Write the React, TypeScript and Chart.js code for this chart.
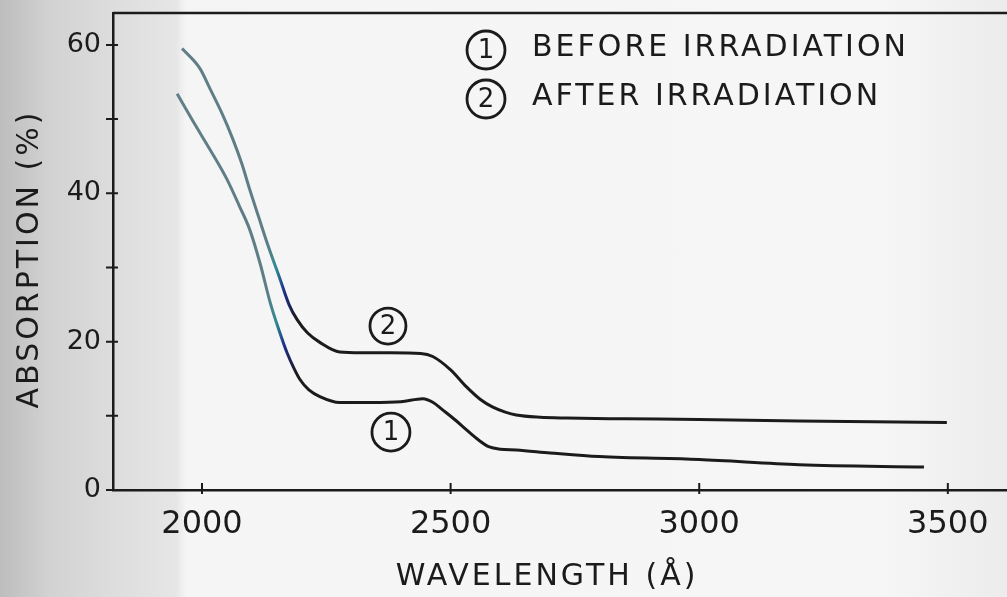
import React, { useEffect, useRef } from 'react';
import { Chart, registerables } from 'chart.js';

Chart.register(...registerables);

// Curve 1: before irradiation
const wavelengthBefore = [1950, 1982, 2016, 2050, 2075, 2096, 2117, 2137, 2155, 2171, 2185, 2197, 2215, 2237, 2277, 2340, 2400, 2444, 2465, 2484, 2510, 2532, 2555, 2578, 2600, 2632, 2700, 2799, 3000, 3201, 3452];
const absorptionBefore = [53.4, 49.7, 45.9, 41.9, 38.3, 35.1, 30.5, 25.3, 21.5, 18.5, 16.4, 14.9, 13.5, 12.6, 11.8, 11.8, 11.9, 12.3, 11.8, 10.8, 9.4, 8.1, 6.8, 5.8, 5.5, 5.4, 5.0, 4.5, 4.1, 3.4, 3.1];

// Curve 2: after irradiation
const wavelengthAfter = [1960, 1996, 2016, 2040, 2062, 2080, 2096, 2113, 2130, 2157, 2175, 2191, 2212, 2237, 2277, 2320, 2380, 2440, 2464, 2500, 2532, 2560, 2584, 2610, 2632, 2680, 2733, 2850, 3000, 3200, 3350, 3498];
const absorptionAfter = [59.5, 56.8, 54.1, 50.8, 47.3, 44.0, 40.5, 37.0, 33.5, 28.4, 25.0, 23.0, 21.2, 19.9, 18.6, 18.5, 18.5, 18.4, 18.0, 16.2, 13.9, 12.2, 11.2, 10.5, 10.1, 9.8, 9.7, 9.6, 9.5, 9.3, 9.2, 9.1];

// Axis ticks
const xTickValues = [2000, 2500, 3000, 3500];
const yTickValues = [0, 10, 20, 30, 40, 50, 60];
const yLabelledTicks = [0, 20, 40, 60];

const legendLabels = ['BEFORE IRRADIATION', 'AFTER IRRADIATION'];
const curveMarks = ['1', '2'];
const xTitle = 'WAVELENGTH (Å)';
const yTitle = 'ABSORPTION (%)';

const INK = '#1b1b1b';
const FONT = '"DejaVu Sans", sans-serif';

function toPoints(xs: number[], ys: number[]) {
  return xs.map((x, i) => ({ x, y: ys[i] }));
}

function curveStroke(context: any) {
  const chart = context.chart;
  const area = chart.chartArea;
  if (!area) return INK;
  const xs = chart.scales.x;
  const w = chart.width;
  const g = chart.ctx.createLinearGradient(0, 0, w, 0);
  const p = (v: number) => Math.min(1, Math.max(0, xs.getPixelForValue(v) / w));
  g.addColorStop(0, '#66808a');
  g.addColorStop(p(2128), '#5f7d86');
  g.addColorStop(p(2150), '#2f8a92');
  g.addColorStop(p(2165), '#1d2f8c');
  g.addColorStop(p(2190), INK);
  g.addColorStop(1, INK);
  return g;
}

function circled(ctx: CanvasRenderingContext2D, cx: number, cy: number, r: number, label: string) {
  ctx.beginPath();
  ctx.lineWidth = 2.8;
  ctx.strokeStyle = INK;
  ctx.arc(cx, cy, r, 0, Math.PI * 2);
  ctx.stroke();
  ctx.fillStyle = INK;
  ctx.font = `26px ${FONT}`;
  ctx.textAlign = 'center';
  ctx.textBaseline = 'middle';
  (ctx as any).letterSpacing = '0px';
  ctx.fillText(label, cx, cy + 1);
}

const decorPlugin = {
  id: 'decor',
  afterDraw(chart: any) {
    const { ctx, chartArea, scales } = chart;
    const xs = scales.x;
    const ys = scales.y;
    ctx.save();

    // top frame line
    ctx.strokeStyle = INK;
    ctx.lineWidth = 2.5;
    ctx.beginPath();
    ctx.moveTo(chartArea.left, chartArea.top);
    ctx.lineTo(chartArea.right, chartArea.top);
    ctx.stroke();

    // tick marks crossing the axes
    ctx.lineWidth = 2;
    ctx.beginPath();
    ys.ticks.forEach((t: any) => {
      const py = ys.getPixelForValue(t.value);
      ctx.moveTo(chartArea.left - 7, py);
      ctx.lineTo(chartArea.left + 5, py);
    });
    xs.ticks.forEach((t: any) => {
      const px = xs.getPixelForValue(t.value);
      ctx.moveTo(px, chartArea.bottom - 7);
      ctx.lineTo(px, chartArea.bottom + 4);
    });
    ctx.stroke();

    // axis titles
    ctx.fillStyle = INK;
    ctx.font = `30px ${FONT}`;
    ctx.textAlign = 'center';
    ctx.textBaseline = 'middle';
    (ctx as any).letterSpacing = '3px';
    ctx.fillText(xTitle, 547, 577);

    ctx.save();
    ctx.translate(30, 259);
    ctx.rotate(-Math.PI / 2);
    (ctx as any).letterSpacing = '3px';
    ctx.fillText(yTitle, 0, 0);
    ctx.restore();

    // legend
    const lx = chartArea.left + 373;
    const ly = chartArea.top + 37;
    legendLabels.forEach((text, i) => {
      const cy = ly + i * 49;
      circled(ctx, lx, cy, 19, curveMarks[i]);
      ctx.fillStyle = INK;
      ctx.font = `30px ${FONT}`;
      ctx.textAlign = 'left';
      ctx.textBaseline = 'middle';
      (ctx as any).letterSpacing = '3px';
      ctx.fillText(text, lx + 46, cy - 2);
    });

    // curve markers
    circled(ctx, xs.getPixelForValue(2380), ys.getPixelForValue(7.8), 19, curveMarks[0]);
    circled(ctx, xs.getPixelForValue(2374), ys.getPixelForValue(22.1), 18, curveMarks[1]);

    ctx.restore();
  },
};

export default function App() {
  const canvasRef = useRef<HTMLCanvasElement | null>(null);

  useEffect(() => {
    document.body.style.margin = '0';
    const canvas = canvasRef.current;
    if (!canvas) return;
    const chart = new Chart(canvas, {
      type: 'line',
      data: {
        datasets: [
          {
            label: legendLabels[0],
            data: toPoints(wavelengthBefore, absorptionBefore),
            borderColor: curveStroke,
            borderWidth: 3,
            pointRadius: 0,
            cubicInterpolationMode: 'monotone',
            fill: false,
          },
          {
            label: legendLabels[1],
            data: toPoints(wavelengthAfter, absorptionAfter),
            borderColor: curveStroke,
            borderWidth: 3,
            pointRadius: 0,
            cubicInterpolationMode: 'monotone',
            fill: false,
          },
        ],
      },
      options: {
        responsive: false,
        animation: false,
        devicePixelRatio: 1,
        layout: { padding: { top: 13, right: 0, bottom: 0, left: 0 } },
        plugins: {
          legend: { display: false },
          tooltip: { enabled: false },
          title: { display: false },
        },
        scales: {
          x: {
            type: 'linear',
            position: 'bottom',
            min: 1821,
            max: 3619,
            grid: { display: false, drawTicks: false },
            border: { display: true, color: INK, width: 2.5 },
            ticks: {
              color: INK,
              padding: 15,
              maxRotation: 0,
              autoSkip: false,
              font: { family: FONT, size: 32 },
              callback: (v: any) => String(v),
            },
            afterBuildTicks: (scale: any) => {
              scale.ticks = xTickValues.map((value) => ({ value }));
            },
            afterFit: (scale: any) => {
              scale.height = 107;
              scale.paddingLeft = 0;
              scale.paddingRight = 0;
            },
          },
          y: {
            type: 'linear',
            min: 0,
            max: 64.3,
            grid: { display: false, drawTicks: false },
            border: { display: true, color: INK, width: 2.5 },
            ticks: {
              color: INK,
              padding: 12,
              autoSkip: false,
              font: { family: FONT, size: 27 },
              callback: (v: any) => (yLabelledTicks.includes(Number(v)) ? String(v) : ''),
            },
            afterBuildTicks: (scale: any) => {
              scale.ticks = yTickValues.map((value) => ({ value }));
            },
            afterFit: (scale: any) => {
              scale.width = 113;
              scale.paddingTop = 0;
              scale.paddingBottom = 0;
            },
          },
        },
      },
      plugins: [decorPlugin],
    });
    return () => chart.destroy();
  }, []);

  return (
    <div
      style={{
        position: 'fixed',
        left: 0,
        top: 0,
        width: 1007,
        height: 597,
        background:
          'linear-gradient(to right, #bdbdbd 0px, #d2d2d2 50px, #dedede 120px, #e6e6e6 176px, #f5f5f5 186px, #f6f6f6 880px, #ececec 1007px)',
      }}
    >
      <canvas ref={canvasRef} width={1007} height={597} style={{ display: 'block' }} />
    </div>
  );
}
